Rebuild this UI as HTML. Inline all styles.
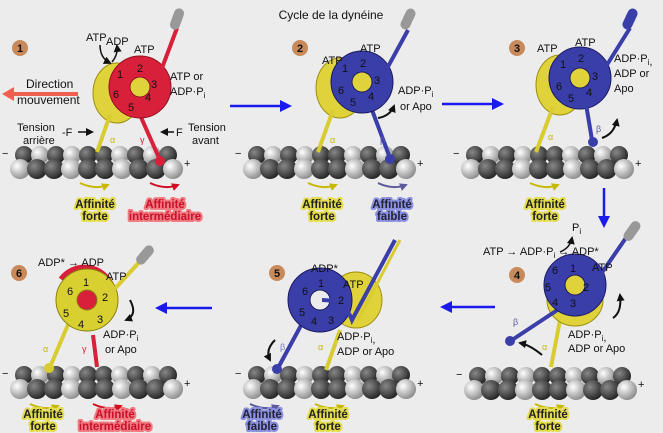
<!DOCTYPE html>
<html><head><meta charset="utf-8"><style>
html,body{margin:0;padding:0;background:#ececec;}
svg{display:block;font-family:"Liberation Sans",sans-serif;}
.t{font-size:11px;fill:#111;}
.n{font-size:11px;fill:#111;}
.lab{font-size:11.5px;font-weight:bold;paint-order:stroke;stroke-linejoin:round;}
.y{fill:#222;stroke:#e4dc4a;stroke-width:4;}
.r{fill:#c8102a;stroke:#f07a80;stroke-width:4;}
.b{fill:#223;stroke:#8a8fe0;stroke-width:4;}
</style></head><body>
<svg width="663" height="433" viewBox="0 0 663 433">
<defs>
<radialGradient id="gl" cx="35%" cy="35%" r="70%"><stop offset="0" stop-color="#fff"/><stop offset="1" stop-color="#8a8a8a"/></radialGradient>
<radialGradient id="gd" cx="35%" cy="35%" r="70%"><stop offset="0" stop-color="#888"/><stop offset="1" stop-color="#222"/></radialGradient>
<g id="mt">
<g>
<circle cx="12" cy="10" r="9" fill="url(#gd)"/><circle cx="28" cy="10" r="9" fill="url(#gl)"/><circle cx="44" cy="10" r="9" fill="url(#gd)"/><circle cx="60" cy="10" r="9" fill="url(#gl)"/><circle cx="76" cy="10" r="9" fill="url(#gd)"/><circle cx="92" cy="10" r="9" fill="url(#gd)"/><circle cx="108" cy="10" r="9" fill="url(#gl)"/><circle cx="124" cy="10" r="9" fill="url(#gd)"/><circle cx="140" cy="10" r="9" fill="url(#gl)"/><circle cx="156" cy="10" r="9" fill="url(#gd)"/>
</g>
<g>
<circle cx="8" cy="24" r="10" fill="url(#gl)"/><circle cx="25" cy="24" r="10" fill="url(#gd)"/><circle cx="42" cy="24" r="10" fill="url(#gd)"/><circle cx="59" cy="24" r="10" fill="url(#gl)"/><circle cx="76" cy="24" r="10" fill="url(#gd)"/><circle cx="93" cy="24" r="10" fill="url(#gd)"/><circle cx="110" cy="24" r="10" fill="url(#gl)"/><circle cx="127" cy="24" r="10" fill="url(#gd)"/><circle cx="144" cy="24" r="10" fill="url(#gd)"/><circle cx="161" cy="24" r="10" fill="url(#gl)"/>
</g>
<text x="-10" y="12" class="t">−</text><text x="172" y="22" class="t">+</text>
</g>
<marker id="ab" markerWidth="8" markerHeight="8" refX="6" refY="4" orient="auto" markerUnits="userSpaceOnUse"><path d="M0,0 L8,4 L0,8 z" fill="#111"/></marker>
<marker id="ay" markerWidth="8" markerHeight="8" refX="6" refY="4" orient="auto" markerUnits="userSpaceOnUse"><path d="M0,0 L8,4 L0,8 z" fill="#c8b800"/></marker>
<marker id="ar" markerWidth="8" markerHeight="8" refX="6" refY="4" orient="auto" markerUnits="userSpaceOnUse"><path d="M0,0 L8,4 L0,8 z" fill="#d01020"/></marker>
<marker id="ap" markerWidth="8" markerHeight="8" refX="6" refY="4" orient="auto" markerUnits="userSpaceOnUse"><path d="M0,0 L8,4 L0,8 z" fill="#5a5a9a"/></marker>
<g id="badge"><circle r="8" fill="#c88a5a"/></g>
</defs>

<text x="331" y="19" text-anchor="middle" style="font-size:12px" fill="#111">Cycle de la dynéine</text>

<g stroke="#1a1aee" stroke-width="2.5" fill="#1a1aee">
<line x1="230" y1="106" x2="282" y2="106"/><path d="M292,106 L280,100 L280,112z" stroke="none"/>
<line x1="442" y1="104" x2="494" y2="104"/><path d="M504,104 L492,98 L492,110z" stroke="none"/>
<line x1="604" y1="188" x2="604" y2="218"/><path d="M604,228 L598,216 L610,216z" stroke="none"/>
<line x1="495" y1="307" x2="450" y2="307"/><path d="M440,307 L452,301 L452,313z" stroke="none"/>
<line x1="212" y1="308" x2="165" y2="308"/><path d="M155,308 L167,302 L167,314z" stroke="none"/>
</g>

<!-- Panel 1 -->
<use href="#badge" x="20" y="48"/><text x="20" y="52" text-anchor="middle" class="t" font-weight="bold">1</text>
<use href="#mt" x="12" y="145"/>
<ellipse cx="117" cy="93" rx="24" ry="30" fill="#e0d23a" stroke="#9a8f10"/>
<line x1="110" y1="115" x2="97" y2="152" stroke="#d8cc30" stroke-width="4"/>
<line x1="140" y1="115" x2="160" y2="160" stroke="#d8203a" stroke-width="4"/>
<circle cx="160" cy="161" r="5" fill="#d8203a"/>
<circle cx="140" cy="87" r="31" fill="#d8203a" stroke="#901020"/>
<circle cx="140" cy="87" r="10" fill="#e0d23a" stroke="#901020"/>
<path d="M150,100 L177,28" stroke="#d8203a" stroke-width="4" fill="none"/>
<rect x="172" y="8" width="10" height="22" rx="5" fill="#999" transform="rotate(20 177 19)"/>
<g class="n"><text x="117" y="78">1</text><text x="137" y="72">2</text><text x="151" y="88">3</text><text x="145" y="101">4</text><text x="128" y="111">5</text><text x="113" y="98">6</text></g>
<text x="86" y="41" class="t">ATP</text><text x="106" y="45" class="t">ADP</text><text x="134" y="53" class="t">ATP</text>
<text x="170" y="80" class="t">ATP or</text><text x="170" y="95" class="t">ADP·P<tspan font-size="8" dy="3">i</tspan></text>
<path d="M100,45 Q100,58 110,63" stroke="#111" stroke-width="1.5" fill="none" marker-end="url(#ab)"/>
<path d="M112,62 Q118,55 117,46" stroke="#111" stroke-width="1.5" fill="none" marker-end="url(#ab)"/>
<line x1="78" y1="94" x2="8" y2="94" stroke="#f06050" stroke-width="4"/><path d="M2,94 L14,87 L14,101z" fill="#f06050"/>
<text x="26" y="88" style="font-size:12px" fill="#111">Direction</text>
<text x="17" y="104" style="font-size:12px" fill="#111">mouvement</text>
<text x="17" y="131" class="t">Tension</text><text x="23" y="144" class="t">arrière</text>
<text x="62" y="136" class="t">-F</text><line x1="78" y1="132" x2="92" y2="132" stroke="#111" stroke-width="1.5" marker-end="url(#ab)"/>
<line x1="174" y1="132" x2="162" y2="132" stroke="#111" stroke-width="1.5" marker-end="url(#ab)"/>
<text x="176" y="136" class="t">F</text><text x="188" y="131" class="t">Tension</text><text x="192" y="144" class="t">avant</text>
<text x="110" y="143" font-size="9" fill="#c8b800">α</text><text x="140" y="143" font-size="9" fill="#d8203a">γ</text>
<path d="M80,183 Q95,190 108,185" stroke="#c8b800" stroke-width="2" fill="none" marker-end="url(#ay)"/>
<path d="M150,183 Q165,190 178,185" stroke="#d01020" stroke-width="2" fill="none" marker-end="url(#ar)"/>
<text x="95" y="208" text-anchor="middle" class="lab y">Affinité</text><text x="95" y="220" text-anchor="middle" class="lab y">forte</text>
<text x="165" y="208" text-anchor="middle" class="lab r">Affinité</text><text x="165" y="220" text-anchor="middle" class="lab r">intermédiaire</text>

<!-- Panel 2 -->
<use href="#badge" x="300" y="48"/><text x="300" y="52" text-anchor="middle" class="t" font-weight="bold">2</text>
<use href="#mt" x="245" y="145"/>
<ellipse cx="340" cy="88" rx="24" ry="30" fill="#e0d23a" stroke="#9a8f10"/>
<line x1="333" y1="110" x2="318" y2="152" stroke="#d8cc30" stroke-width="4"/>
<line x1="372" y1="110" x2="390" y2="158" stroke="#3a3ea8" stroke-width="4"/>
<circle cx="390" cy="159" r="5" fill="#3a3ea8"/>
<circle cx="362" cy="82" r="31" fill="#3a3ea8" stroke="#1a1a60"/>
<circle cx="362" cy="82" r="10" fill="#e0d23a" stroke="#1a1a60"/>
<path d="M372,96 L408,30" stroke="#3a3ea8" stroke-width="4" fill="none"/>
<rect x="403" y="8" width="10" height="22" rx="5" fill="#999" transform="rotate(25 408 19)"/>
<g class="n"><text x="342" y="72">1</text><text x="360" y="67">2</text><text x="374" y="84">3</text><text x="368" y="100">4</text><text x="350" y="106">5</text><text x="338" y="94">6</text></g>
<text x="322" y="64" class="t">ATP</text><text x="360" y="52" class="t">ATP</text>
<text x="398" y="94" class="t">ADP·P<tspan font-size="8" dy="3">i</tspan></text><text x="400" y="110" class="t">or Apo</text>
<path d="M378,118 Q390,116 394,106" stroke="#111" stroke-width="2" fill="none" marker-end="url(#ab)"/>
<text x="330" y="143" font-size="9" fill="#c8b800">α</text><text x="380" y="143" font-size="9" fill="#5a5ab0">β</text>
<path d="M308,183 Q323,190 336,185" stroke="#c8b800" stroke-width="2" fill="none" marker-end="url(#ay)"/>
<path d="M378,183 Q393,190 406,185" stroke="#5a5a9a" stroke-width="2" fill="none" marker-end="url(#ap)"/>
<text x="322" y="208" text-anchor="middle" class="lab y">Affinité</text><text x="322" y="220" text-anchor="middle" class="lab y">forte</text>
<text x="392" y="208" text-anchor="middle" class="lab b">Affinité</text><text x="392" y="220" text-anchor="middle" class="lab b">faible</text>

<!-- Panel 3 -->
<use href="#badge" x="517" y="48"/><text x="517" y="52" text-anchor="middle" class="t" font-weight="bold">3</text>
<use href="#mt" x="463" y="145"/>
<ellipse cx="560" cy="85" rx="24" ry="30" fill="#e0d23a" stroke="#9a8f10"/>
<line x1="553" y1="107" x2="536" y2="152" stroke="#d8cc30" stroke-width="4"/>
<circle cx="580" cy="78" r="31" fill="#3a3ea8" stroke="#1a1a60"/>
<circle cx="580" cy="78" r="10" fill="#e0d23a" stroke="#1a1a60"/>
<line x1="585" y1="98" x2="592" y2="140" stroke="#3a3ea8" stroke-width="4"/>
<circle cx="593" cy="142" r="5" fill="#3a3ea8"/>
<path d="M590,92 L630,28" stroke="#3a3ea8" stroke-width="4" fill="none"/>
<rect x="625" y="8" width="10" height="22" rx="5" fill="#3a3ea8" transform="rotate(25 630 19)"/>
<g class="n"><text x="560" y="68">1</text><text x="578" y="62">2</text><text x="592" y="80">3</text><text x="586" y="96">4</text><text x="568" y="102">5</text><text x="556" y="90">6</text></g>
<text x="537" y="52" class="t">ATP</text><text x="575" y="46" class="t">ATP</text>
<text x="614" y="62" class="t">ADP·P<tspan font-size="8" dy="3">i</tspan>,</text><text x="614" y="77" class="t">ADP or</text><text x="614" y="92" class="t">Apo</text>
<path d="M602,138 Q614,134 617,120" stroke="#111" stroke-width="2" fill="none" marker-end="url(#ab)"/>
<text x="548" y="140" font-size="9" fill="#c8b800">α</text><text x="596" y="132" font-size="9" fill="#5a5ab0">β</text>
<path d="M530,183 Q545,190 558,185" stroke="#c8b800" stroke-width="2" fill="none" marker-end="url(#ay)"/>
<text x="545" y="208" text-anchor="middle" class="lab y">Affinité</text><text x="545" y="220" text-anchor="middle" class="lab y">forte</text>

<!-- Panel 4 -->
<use href="#badge" x="517" y="275"/><text x="517" y="279" text-anchor="middle" class="t" font-weight="bold">4</text>
<use href="#mt" x="466" y="366"/>
<line x1="560" y1="320" x2="551" y2="367" stroke="#d8cc30" stroke-width="4"/>
<ellipse cx="575" cy="300" rx="28" ry="26" fill="#e0d23a" stroke="#9a8f10"/>
<line x1="565" y1="305" x2="512" y2="340" stroke="#3a3ea8" stroke-width="4"/>
<circle cx="510" cy="341" r="5" fill="#3a3ea8"/>
<circle cx="575" cy="285" r="31" fill="#3a3ea8" stroke="#1a1a60"/>
<circle cx="575" cy="285" r="10" fill="#e0d23a" stroke="#1a1a60"/>
<path d="M590,290 L630,232" stroke="#3a3ea8" stroke-width="4" fill="none"/>
<rect x="627" y="220" width="10" height="22" rx="5" fill="#999" transform="rotate(35 632 231)"/>
<g class="n"><text x="552" y="274">6</text><text x="570" y="272">1</text><text x="583" y="291">2</text><text x="570" y="307">3</text><text x="552" y="306">4</text><text x="545" y="291">5</text></g>
<text x="483" y="255" class="t">ATP → ADP·P<tspan font-size="8" dy="3">i</tspan><tspan dy="-3"> → ADP*</tspan></text>
<text x="572" y="231" class="t">P<tspan font-size="8" dy="3">i</tspan></text>
<path d="M560,252 Q570,248 572,238" stroke="#111" stroke-width="1.5" fill="none" marker-end="url(#ab)"/>
<text x="592" y="271" class="t">ATP</text>
<path d="M613,318 Q622,312 620,295" stroke="#111" stroke-width="2" fill="none" marker-end="url(#ab)"/>
<text x="568" y="338" class="t">ADP·P<tspan font-size="8" dy="3">i</tspan>,</text><text x="568" y="352" class="t">ADP or Apo</text>
<path d="M542,355 Q530,345 520,343" stroke="#111" stroke-width="2" fill="none" marker-end="url(#ab)"/>
<text x="513" y="325" font-size="9" fill="#5a5ab0">β</text><text x="542" y="350" font-size="9" fill="#c8b800">α</text>
<path d="M535,404 Q550,411 563,406" stroke="#c8b800" stroke-width="2" fill="none" marker-end="url(#ay)"/>
<text x="548" y="418" text-anchor="middle" class="lab y">Affinité</text><text x="548" y="430" text-anchor="middle" class="lab y">forte</text>

<!-- Panel 5 -->
<use href="#badge" x="277" y="273"/><text x="277" y="277" text-anchor="middle" class="t" font-weight="bold">5</text>
<use href="#mt" x="245" y="365"/>
<line x1="340" y1="330" x2="326" y2="370" stroke="#d8cc30" stroke-width="4"/>
<ellipse cx="356" cy="300" rx="26" ry="28" fill="#e0d23a" stroke="#9a8f10"/>
<line x1="305" y1="318" x2="278" y2="368" stroke="#3a3ea8" stroke-width="4"/>
<circle cx="277" cy="369" r="5" fill="#3a3ea8"/>
<circle cx="320" cy="300" r="32" fill="#3a3ea8" stroke="#1a1a60"/>
<circle cx="320" cy="300" r="10" fill="#ececec" stroke="#1a1a60"/>
<path d="M322,300 Q345,300 352,320 L395,240" stroke="#3a3ea8" stroke-width="4" fill="none"/>
<path d="M358,320 L400,240" stroke="#d8cc30" stroke-width="3" fill="none"/>
<g class="n"><text x="318" y="287">1</text><text x="338" y="304">2</text><text x="328" y="324">3</text><text x="311" y="325">4</text><text x="299" y="316">5</text><text x="302" y="295">6</text></g>
<text x="311" y="272" class="t">ADP*</text><text x="343" y="288" class="t">ATP</text>
<text x="337" y="340" class="t">ADP·P<tspan font-size="8" dy="3">i</tspan>,</text><text x="337" y="355" class="t">ADP or Apo</text>
<path d="M275,340 Q265,350 270,360" stroke="#111" stroke-width="2" fill="none" marker-end="url(#ab)"/>
<text x="280" y="350" font-size="9" fill="#7a7ac0">β</text><text x="318" y="350" font-size="9" fill="#c8b800">α</text>
<path d="M250,404 Q265,411 278,406" stroke="#5a5a9a" stroke-width="2" fill="none" marker-end="url(#ap)"/>
<path d="M315,404 Q330,411 343,406" stroke="#c8b800" stroke-width="2" fill="none" marker-end="url(#ay)"/>
<text x="262" y="418" text-anchor="middle" class="lab b">Affinité</text><text x="262" y="430" text-anchor="middle" class="lab b">faible</text>
<text x="328" y="418" text-anchor="middle" class="lab y">Affinité</text><text x="328" y="430" text-anchor="middle" class="lab y">forte</text>

<!-- Panel 6 -->
<use href="#badge" x="19" y="273"/><text x="19" y="277" text-anchor="middle" class="t" font-weight="bold">6</text>
<use href="#mt" x="12" y="365"/>
<line x1="93" y1="335" x2="97" y2="367" stroke="#d8203a" stroke-width="4"/>
<path d="M62,280 A28,28 0 0 1 110,285" stroke="#d8203a" stroke-width="8" fill="none"/>
<line x1="70" y1="320" x2="50" y2="367" stroke="#d8cc30" stroke-width="4"/>
<circle cx="49" cy="368" r="5" fill="#d8cc30"/>
<circle cx="87" cy="300" r="31" fill="#d8d030" stroke="#8a8010"/>
<circle cx="87" cy="300" r="10" fill="#d8203a" stroke="#8a8010"/>
<path d="M100,305 L143,258" stroke="#d8cc30" stroke-width="4" fill="none"/>
<rect x="140" y="244" width="10" height="22" rx="5" fill="#999" transform="rotate(40 145 255)"/>
<g class="n"><text x="83" y="286">1</text><text x="102" y="301">2</text><text x="97" y="323">3</text><text x="78" y="328">4</text><text x="63" y="317">5</text><text x="67" y="295">6</text></g>
<text x="38" y="266" class="t">ADP* → ADP</text><text x="106" y="280" class="t">ATP</text>
<path d="M130,300 Q138,315 126,320" stroke="#111" stroke-width="2" fill="none" marker-end="url(#ab)"/>
<text x="103" y="338" class="t">ADP·P<tspan font-size="8" dy="3">i</tspan></text><text x="105" y="353" class="t">or Apo</text>
<text x="43" y="352" font-size="9" fill="#c8b800">α</text><text x="82" y="352" font-size="9" fill="#d8203a">γ</text>
<path d="M30,404 Q45,411 58,406" stroke="#c8b800" stroke-width="2" fill="none" marker-end="url(#ay)"/>
<path d="M93,404 Q108,411 121,406" stroke="#d01020" stroke-width="2" fill="none" marker-end="url(#ar)"/>
<text x="43" y="418" text-anchor="middle" class="lab y">Affinité</text><text x="43" y="430" text-anchor="middle" class="lab y">forte</text>
<text x="115" y="418" text-anchor="middle" class="lab r">Affinité</text><text x="115" y="430" text-anchor="middle" class="lab r">intermédiaire</text>
</svg>
</body></html>
